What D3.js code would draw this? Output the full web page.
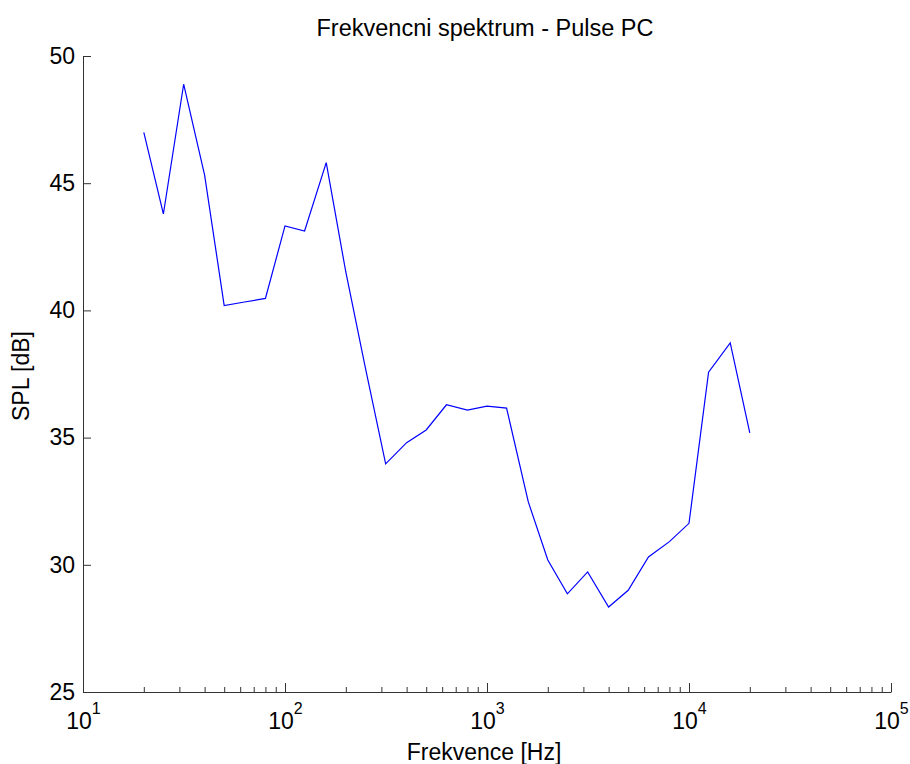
<!DOCTYPE html>
<html>
<head>
<meta charset="utf-8">
<title>Frekvencni spektrum - Pulse PC</title>
<script src="https://d3js.org/d3.v7.min.js"></script>
<style>
  body { margin: 0; background: #fff; }
  text { font-family: "Liberation Sans", Arial, sans-serif; fill: #000; }
  .axis path, .axis line { stroke: #333; }
</style>
</head>
<body>
<div id="chart"></div>
<script>
// third-octave bands and measured SPL
const freqs = [20, 25, 31.5, 40, 50, 63, 80, 100, 125, 160, 200, 250, 315, 400, 500,
               630, 800, 1000, 1250, 1600, 2000, 2500, 3150, 4000, 5000, 6300, 8000,
               10000, 12500, 16000, 20000];
const spl = [47.0, 43.79, 48.89, 45.32, 40.19, 40.33, 40.47, 43.32, 43.12, 45.81, 41.51,
             37.74, 33.97, 34.8, 35.3, 36.29, 36.08, 36.24, 36.16, 32.48, 30.19, 28.86,
             29.72, 28.34, 29.0, 30.31, 30.91, 31.63, 37.57, 38.72, 35.19];
const xMajor = [10, 100, 1000, 10000, 100000];
const yTicks = [25, 30, 35, 40, 45, 50];

const W = 910, H = 764;
const m = { left: 83, right: 891, top: 56, bottom: 692 };
const fs = "23px";

const svg = d3.select("#chart").append("svg")
    .attr("width", W).attr("height", H);

const x = d3.scaleLog().domain([10, 100000]).range([m.left, m.right]);
const y = d3.scaleLinear().domain([25, 50]).range([m.bottom, m.top]);

// minor ticks 2..9 per decade
let xMinor = [];
xMajor.slice(0, -1).forEach(d => {
    for (let k = 2; k <= 9; k++) xMinor.push(d * k);
});

svg.append("g")
    .attr("class", "axis")
    .attr("transform", `translate(0,${m.bottom})`)
    .call(d3.axisBottom(x).tickValues(xMinor).tickSize(-5).tickFormat(""))
    .call(g => g.select(".domain").remove());

const xAxis = svg.append("g")
    .attr("class", "axis")
    .attr("transform", `translate(0,${m.bottom})`)
    .call(d3.axisBottom(x).tickValues(xMajor).tickSizeInner(-9).tickSizeOuter(0).tickPadding(21));

xAxis.selectAll(".tick text")
    .style("font-size", fs)
    .text("10")
    .append("tspan")
    .attr("dy", "-15")
    .style("font-size", "16px")
    .text(d => Math.round(Math.log10(d)));

svg.append("g")
    .attr("class", "axis")
    .attr("transform", `translate(${m.left},0)`)
    .call(d3.axisLeft(y).tickValues(yTicks).tickSizeInner(-8).tickSizeOuter(0).tickPadding(8))
    .selectAll(".tick text")
    .style("font-size", fs);

svg.selectAll(".axis text").attr("fill", "#000");

// spectrum line
svg.append("path")
    .datum(freqs.map((f, i) => [f, spl[i]]))
    .attr("fill", "none")
    .attr("stroke", "#0000ff")
    .attr("stroke-width", 1.2)
    .attr("d", d3.line().x(d => x(d[0])).y(d => y(d[1])));

// labels
svg.append("text")
    .attr("x", 485).attr("y", 36)
    .attr("text-anchor", "middle")
    .style("font-size", "23.5px")
    .text("Frekvencni spektrum - Pulse PC");

svg.append("text")
    .attr("x", 484).attr("y", 760)
    .attr("text-anchor", "middle")
    .style("font-size", fs)
    .text("Frekvence [Hz]");

svg.append("text")
    .attr("transform", `translate(29,376) rotate(-90)`)
    .attr("text-anchor", "middle")
    .style("font-size", fs)
    .text("SPL [dB]");
</script>
</body>
</html>
